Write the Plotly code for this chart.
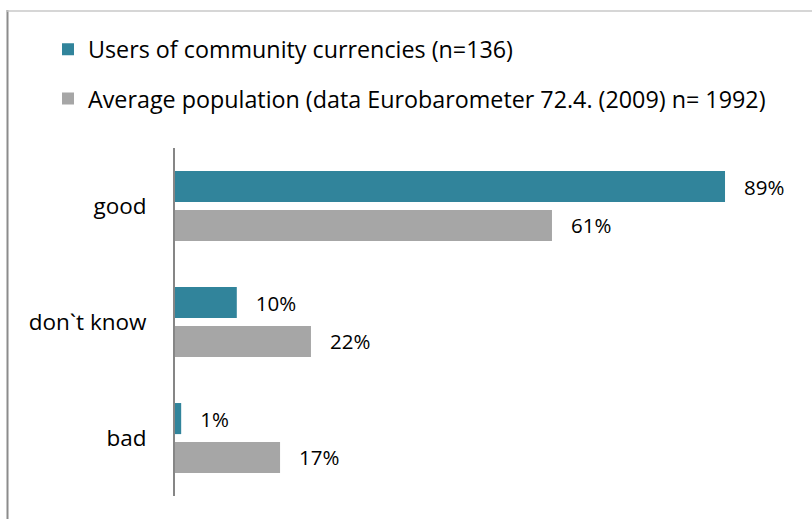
import plotly.graph_objects as go

categories = ["good", "don`t know", "bad"]
users_values = [89, 10, 1]
population_values = [61, 22, 17]
series_names = ["Users of community currencies (n=136)",
                "Average population (data Eurobarometer 72.4. (2009) n= 1992)"]

W, H = 812, 519
L, R, T, B = 175, 19, 148, 23
pw, ph = W - L - R, H - T - B
FONT = "Open Sans"
PAD = "\u00a0\u00a0\u00a0"

fig = go.Figure()
fig.add_trace(go.Bar(
    y=categories, x=users_values, orientation="h", name=series_names[0],
    marker=dict(color="#31849B", line=dict(width=0)),
    text=[f"{PAD}{v}%" for v in users_values],
    textposition="outside", constraintext="none", cliponaxis=False,
    textfont=dict(size=20.5, color="black", family=FONT),
    legendgroup="a",
))
fig.add_trace(go.Bar(
    y=categories, x=population_values, orientation="h", name=series_names[1],
    marker=dict(color="#A6A6A6", line=dict(width=0)),
    text=[f"{PAD}{v}%" for v in population_values],
    textposition="outside", constraintext="none", cliponaxis=False,
    textfont=dict(size=20.5, color="black", family=FONT),
    legendgroup="b",
))

def px_x(p):
    return (p - L) / pw

def px_y(p):
    return 1 - (p - T) / ph

fig.update_layout(
    width=W, height=H,
    margin=dict(l=L, r=R, t=T, b=B, autoexpand=False),
    paper_bgcolor="white", plot_bgcolor="white",
    barmode="group", bargap=0.33, bargroupgap=0.2,
    font=dict(family=FONT, size=20, color="black"),
    showlegend=True,
    legend=dict(
        xref="container", yref="container",
        x=48 / W, y=1 - 27.5 / H, xanchor="left", yanchor="top",
        traceorder="grouped", tracegroupgap=16,
        font=dict(size=23.3, family=FONT, color="black"),
        bgcolor="rgba(0,0,0,0)",
    ),
    xaxis=dict(range=[0, 100], showgrid=False, zeroline=False,
               showticklabels=False, showline=False, fixedrange=True),
    yaxis=dict(categoryorder="array", categoryarray=categories,
               autorange="reversed", showgrid=False, zeroline=False,
               showline=True, linecolor="#868686", linewidth=2,
               ticks="", ticklabelstandoff=22, fixedrange=True,
               tickfont=dict(size=22.5, family=FONT, color="black")),
    shapes=[
        dict(type="line", xref="paper", yref="paper",
             x0=px_x(7.5), x1=px_x(7.5), y0=px_y(10), y1=px_y(519),
             line=dict(color="#8C8C8C", width=2)),
        dict(type="line", xref="paper", yref="paper",
             x0=px_x(7), x1=px_x(812), y0=px_y(11), y1=px_y(11),
             line=dict(color="#C8C8C8", width=1.5)),
    ],
)

fig.write_html("out.html",
               config={"displayModeBar": False},
               post_script="document.body.style.margin='0';document.body.style.padding='0';")
